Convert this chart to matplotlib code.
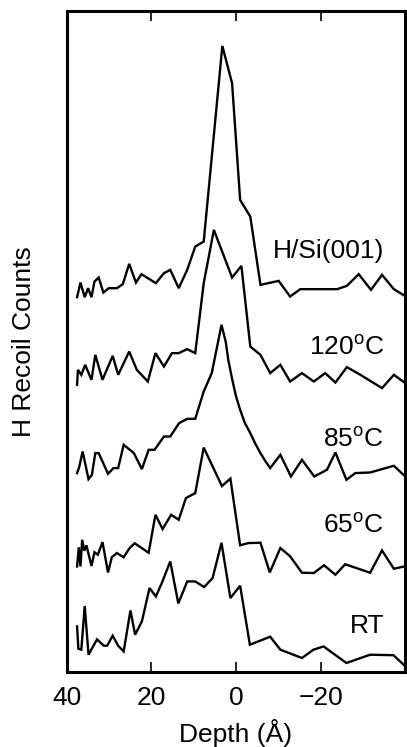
import matplotlib
matplotlib.use("Agg")
import matplotlib.pyplot as plt

plt.rcParams["font.family"] = ["Liberation Sans", "DejaVu Sans"]
plt.rcParams["mathtext.fontset"] = "custom"
plt.rcParams["mathtext.rm"] = "Liberation Sans"

# depth (Angstrom) and counts (arbitrary, stacked) for each trace
HSI_DEPTH = [37.5, 36.7, 35.7, 34.9, 34.1, 33.4, 32.4, 31.3, 30.0, 28.1, 26.7, 25.2, 23.6, 22.3,
             18.9, 17.0, 15.5, 13.5, 11.5, 9.6, 7.6, 3.2, 0.9, -1.0, -3.4, -5.8, -10.1, -12.8,
             -15.2, -23.9, -26.2, -29.0, -31.9, -34.5, -37.3, -40.0]
HSI_COUNTS = [374.7, 389.3, 374.7, 383.7, 374.7, 390.3, 394.3, 379.3, 383.7, 383.7, 387.7, 408,
              389.3, 397.7, 388.7, 398.7, 402, 383.7, 402, 425.3, 430.3, 626, 588.7, 472, 455.3,
              387, 391, 375.3, 382.7, 382.7, 386, 397.7, 382, 397, 382.7, 375.7]

T120_DEPTH = [37.5, 37.3, 36.5, 35.6, 34.1, 33.2, 31.5, 29.1, 27.8, 25.2, 23.4, 20.8, 19.0, 17.0,
              15.1, 13.5, 11.5, 9.6, 7.6, 5.2, 0.9, -1.3, -3.4, -5.8, -8.1, -10.5, -12.8, -15.6,
              -18.4, -21.1, -23.5, -26.2, -29.4, -34.5, -37.3, -40.0]
T120_COUNTS = [287, 302, 297, 307, 292, 317, 292, 316, 297, 320.3, 302, 290.3, 318.7, 305.3,
               318.7, 318.7, 322.7, 318.7, 388.7, 442, 394.3, 406, 325.3, 317, 298.7, 307, 290.3,
               298.7, 290.3, 298.7, 289.3, 304.7, 297, 283.7, 297, 288.7]

T85_DEPTH = [37.5, 37.0, 36.2, 34.8, 34.0, 33.2, 32.4, 30.2, 28.9, 27.8, 26.5, 24.1, 22.2, 20.6,
             19.2, 17.0, 15.5, 13.4, 11.5, 9.6, 7.6, 5.7, 3.4, 2.4, 1.8, 0.9, 0.0, -1.0, -2.1,
             -3.4, -4.6, -5.8, -6.9, -8.1, -10.5, -13.0, -15.6, -18.5, -21.5, -23.5, -26.1,
             -28.2, -31.7, -37.3, -40.0]
T85_COUNTS = [198.7, 204.7, 220.3, 192.7, 197, 218.7, 218.7, 198, 203.7, 203.7, 227, 218.7,
              202.7, 222, 222, 235.3, 235.3, 248.7, 253, 253, 280.3, 298.7, 347, 330, 312, 293,
              276, 262, 249, 238.7, 228, 218.7, 211, 203.7, 217, 195.3, 212, 195.3, 202, 219.3,
              192, 198.7, 199.3, 206, 195.3]

T65_DEPTH = [37.5, 37.1, 36.7, 36.3, 35.8, 35.3, 34.1, 33.4, 32.6, 31.5, 30.2, 29.3, 28.1, 26.5,
             25.1, 23.9, 20.6, 19.0, 17.3, 15.3, 13.5, 11.8, 9.6, 7.6, 3.3, 1.3, -1.0, -3.0,
             -5.8, -8.0, -10.5, -12.8, -15.6, -18.4, -20.8, -23.5, -25.8, -31.7, -34.5, -37.3,
             -40.0]
T65_COUNTS = [105.3, 124.5, 105.3, 132, 121, 126.5, 105.7, 119.5, 117, 129.7, 99.3, 114.5, 118.7,
              114.5, 123.7, 128.5, 119, 157, 142.7, 157, 152, 173.7, 178.7, 224.2, 185.7, 193.2,
              126.5, 128.7, 129, 99.3, 123.7, 115.5, 99, 98.7, 106.5, 97, 107.5, 99, 121.3, 103,
              105.5]

RT_DEPTH = [37.5, 37.2, 36.5, 35.7, 34.8, 32.8, 31.2, 30.4, 29.1, 27.8, 26.5, 24.9, 23.8, 22.2,
            20.4, 18.9, 17.5, 15.5, 13.6, 11.5, 9.6, 7.5, 5.5, 3.4, 1.3, -1.0, -3.3, -8.1, -10.5,
            -15.6, -18.3, -20.7, -26.1, -31.7, -37.2, -40.0]
RT_COUNTS = [45.3, 23, 22, 65.7, 17, 32.3, 26, 26, 36, 26, 20.3, 61.3, 37, 50.3, 83.7, 75.3, 88.7,
             110.3, 68.3, 90.3, 90.3, 84.7, 93.7, 129, 73.7, 86, 27, 35, 22, 13.7, 22, 25.3, 8.7,
             17, 16.5, 5.5]

LABELS = ["H/Si(001)", "120$^{\\rm o}$C", "85$^{\\rm o}$C", "65$^{\\rm o}$C", "RT"]
LABEL_Y = [414, 317, 225, 139, 39]
XTICKS = [40, 20, 0, -20]

fig = plt.figure(figsize=(4.07, 7.47), dpi=100)
ax = fig.add_axes([0.1634, 0.1008, 0.8324, 0.8845])

traces = [(HSI_DEPTH, HSI_COUNTS), (T120_DEPTH, T120_COUNTS), (T85_DEPTH, T85_COUNTS),
          (T65_DEPTH, T65_COUNTS), (RT_DEPTH, RT_COUNTS)]
for (d, c), lab, ly in zip(traces, LABELS, LABEL_Y):
    ax.plot(d, c, color="black", linewidth=1.7, solid_joinstyle="miter")
    ax.text(-35, ly, lab, ha="right", va="baseline", fontsize=19)

ax.set_xlim(40, -40)
ax.set_ylim(0, 661)
ax.set_xticks(XTICKS)
ax.set_xticklabels(["40", "20", "0", "\u221220"])
ax.set_yticks([])
ax.tick_params(axis="x", direction="in", top=True, length=7, width=1.2, labelsize=19, pad=10)
for s in ax.spines.values():
    s.set_linewidth(2.2)

ax.set_xlabel("Depth (Å)", fontsize=19, labelpad=7)
ax.set_ylabel("H Recoil Counts", fontsize=19, labelpad=22)

fig.savefig("out.png", dpi=100)
